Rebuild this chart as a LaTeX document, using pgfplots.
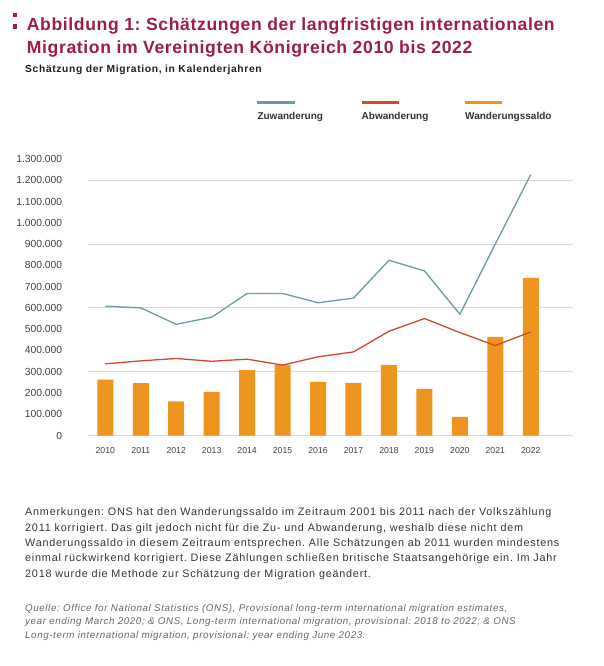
\documentclass[border=0pt]{standalone}
\usepackage{fontspec}
\setmainfont{Liberation Sans}
\newfontfamily\titlefont[LetterSpace=3.5]{Liberation Sans}
\newfontfamily\subfont[LetterSpace=6.2]{Liberation Sans}
\newfontfamily\notefont[LetterSpace=7.3]{Liberation Sans}
\newfontfamily\srcfont[LetterSpace=6]{Liberation Sans}
\usepackage{pgfplots}
\usepackage{pgfplotstable}
\pgfplotsset{compat=1.18}
\frenchspacing

\definecolor{titlered}{HTML}{9B1D48}
\definecolor{zuw}{HTML}{6B9BA6}
\definecolor{abw}{HTML}{CF4A2C}
\definecolor{saldo}{HTML}{EE951F}
\definecolor{gridc}{HTML}{D5D9DC}
\definecolor{txt}{HTML}{333333}
\definecolor{src}{HTML}{666666}

% Zuwanderung, Abwanderung, Wanderungssaldo
\pgfplotstableread{
year zu      ab     saldo
2010 608000  337000 263000
2011 600000  351000 246000
2012 523000  362000 160000
2013 556000  349000 205000
2014 668000  359000 307000
2015 668000  331000 331000
2016 624000  370000 252000
2017 646000  393000 248000
2018 824000  490000 331000
2019 774000  550000 219000
2020 570000  484000  88000
2021 900000  423000 464000
2022 1227000 487000 741000
}\migration

\begin{document}
\begin{tikzpicture}[x=1pt,y=1pt]
\useasboundingbox (0,0) rectangle (604,-666);

% title
\fill[titlered] (12.7,-12.7) rectangle (17.3,-17.2);
\fill[titlered] (12.7,-24.5) rectangle (17.3,-29.3);
\begin{scope}[every node/.style={inner sep=0pt, anchor=base west}]
\node[titlered, font=\titlefont\fontsize{17.6}{20}\selectfont\bfseries] at (26.7,-30.7)
  {Abbildung 1: Schätzungen der langfristigen internationalen};
\node[titlered, font=\titlefont\fontsize{17.6}{20}\selectfont\bfseries] at (26.7,-53.3)
  {Migration im Vereinigten Königreich 2010 bis 2022};
\node[black!88, font=\subfont\fontsize{10.3}{12}\selectfont\bfseries] at (25,-72.7)
  {Schätzung der Migration, in Kalenderjahren};

% legend
\draw[zuw, line width=3.5pt] (257.3,-102.7) -- (295,-102.7);
\draw[abw, line width=3.5pt] (361.5,-102.7) -- (398.5,-102.7);
\draw[saldo, line width=3.5pt] (465,-102.7) -- (501.7,-102.7);
\node[txt, font=\fontsize{10}{12}\selectfont\bfseries] at (257.3,-119.5) {Zuwanderung};
\node[txt, font=\fontsize{10}{12}\selectfont\bfseries] at (361.5,-119.5) {Abwanderung};
\node[txt, font=\fontsize{10}{12}\selectfont\bfseries] at (465,-119.5) {Wanderungssaldo};

% notes
\begin{scope}[every node/.append style={txt, font=\notefont\fontsize{10.8}{12}\selectfont}]
\node at (25,-515.7) {Anmerkungen: ONS hat den Wanderungssaldo im Zeitraum 2001 bis 2011 nach der Volkszählung};
\node at (25,-531.0) {2011 korrigiert. Das gilt jedoch nicht für die Zu- und Abwanderung, weshalb diese nicht dem};
\node at (25,-546.3) {Wanderungssaldo in diesem Zeitraum entsprechen. Alle Schätzungen ab 2011 wurden mindestens};
\node at (25,-561.7) {einmal rückwirkend korrigiert. Diese Zählungen schließen britische Staatsangehörige ein. Im Jahr};
\node at (25,-577.0) {2018 wurde die Methode zur Schätzung der Migration geändert.};
\end{scope}
\begin{scope}[every node/.append style={src, font=\srcfont\fontsize{9.8}{11}\selectfont\itshape}]
\node at (25,-611.0) {Quelle: Office for National Statistics (ONS), Provisional long-term international migration estimates,};
\node at (25,-624.7) {year ending March 2020; \& ONS, Long-term international migration, provisional: 2018 to 2022; \& ONS};
\node at (25,-638.3) {Long-term international migration, provisional: year ending June 2023.};
\end{scope}
\end{scope}

\begin{axis}[
  at={(88.3pt,-435.5pt)}, anchor=south west,
  scale only axis, width=485pt, height=276.5pt,
  xmin=2009.52, xmax=2023.2, ymin=0, ymax=1300000,
  axis line style={draw=none},
  major tick length=0pt,
  xtick={2010,2011,...,2022},
  ytick={0,100000,...,1300000},
  extra y ticks={0,300000,600000,900000,1200000},
  extra y tick labels={},
  extra y tick style={grid=major, major grid style={gridc, line width=1pt}},
  scaled y ticks=false,
  /pgf/number format/assume math mode=true,
  x tick label style={/pgf/number format/1000 sep={}, font=\fontsize{8.7}{10}\selectfont, text=black!75, inner sep=0pt, yshift=-12pt},
  y tick label style={/pgf/number format/fixed, /pgf/number format/1000 sep={.}, font=\fontsize{10.3}{12}\selectfont, text=black!75, inner sep=0pt, xshift=-26pt},
  clip=false,
]
\addplot[ybar, bar width=16pt, bar shift=0pt, fill=saldo, draw=none] table[x=year, y=saldo] {\migration};
\addplot[abw, line width=1.3pt, no markers, sharp plot] table[x=year, y=ab] {\migration};
\addplot[zuw, line width=1.3pt, no markers, sharp plot] table[x=year, y=zu] {\migration};
\end{axis}
\end{tikzpicture}
\end{document}
